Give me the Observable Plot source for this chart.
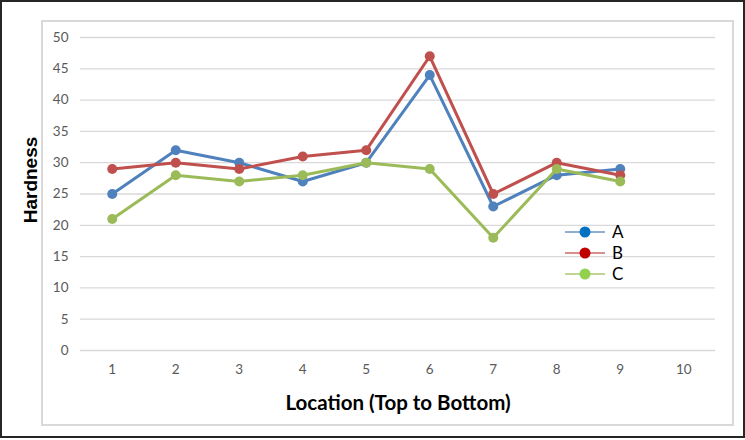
<!DOCTYPE html>
<html>
<head>
<meta charset="utf-8">
<script src="https://cdn.jsdelivr.net/npm/d3@7"></script>
<script src="https://cdn.jsdelivr.net/npm/@observablehq/plot@0.6"></script>
<style>
  html, body { margin: 0; padding: 0; background: #fff; }
  #wrap { position: relative; width: 745px; height: 440px; overflow: hidden; }
  #outer { position: absolute; left: 0; top: 0; width: 741px; height: 434px; border: 2px solid #262626; }
  #inner { position: absolute; left: 41px; top: 20px; width: 689px; height: 402px; border: 2px solid #d9d9d9; }
  #chart { position: absolute; left: 0; top: 0; }
  #legend { position: absolute; left: 564px; top: 221px; font-family: Lato, "Open Sans", sans-serif; font-size: 17px; color: #000; }
  .li { display: flex; align-items: center; height: 21px; }
  .li span { margin-left: 6px; }
</style>
</head>
<body>
<div id="wrap">
  <div id="outer"></div>
  <div id="inner"></div>
  <div id="chart"></div>
  <div id="legend"></div>
</div>
<script>
const locations = [1, 2, 3, 4, 5, 6, 7, 8, 9];
const seriesA = [25, 32, 30, 27, 30, 44, 23, 28, 29];
const seriesB = [29, 30, 29, 31, 32, 47, 25, 30, 28];
const seriesC = [21, 28, 27, 28, 30, 29, 18, 29, 27];
const seriesNames = ["A", "B", "C"];
const lineColors = ["#4F81BD", "#C0504D", "#9BBB59"];
const legendMarkers = ["#0070C0", "#C00000", "#92D050"];
const xTicks = [1, 2, 3, 4, 5, 6, 7, 8, 9, 10];
const yTicks = [0, 5, 10, 15, 20, 25, 30, 35, 40, 45, 50];

const allSeries = [seriesA, seriesB, seriesC];
const data = [];
allSeries.forEach((vals, si) => {
  vals.forEach((v, i) => data.push({ series: seriesNames[si], x: locations[i], y: v }));
});

const font = "Lato, 'Open Sans', sans-serif";
const marks = [
  Plot.gridY(yTicks, { stroke: "#d9d9d9", strokeOpacity: 1, strokeWidth: 1.3 }),
  Plot.axisY(yTicks, { tickSize: 0, tickPadding: 12, fontSize: 13.5, fill: "#595959", label: null }),
  Plot.axisX(xTicks, { tickSize: 0, tickPadding: 14, fontSize: 13.5, fill: "#595959", label: null }),
  Plot.text(["Hardness"], { frameAnchor: "left", textAnchor: "middle", dx: -50, dy: -14, rotate: -90, fontSize: 19, fontWeight: "bold", fill: "#000", fontFamily: "'Liberation Sans', Arial, sans-serif" }),
  Plot.text(["Location (Top to Bottom)"], { frameAnchor: "bottom", lineAnchor: "middle", dy: 53, fontSize: 20.5, fontWeight: "bold", fill: "#000", fontFamily: font })
];
seriesNames.forEach((name, si) => {
  const d = data.filter(r => r.series === name);
  marks.push(Plot.line(d, { x: "x", y: "y", stroke: lineColors[si], strokeWidth: 3 }));
  marks.push(Plot.dot(d, { x: "x", y: "y", fill: lineColors[si], r: 5 }));
});

const chart = Plot.plot({
  width: 745,
  height: 440,
  marginLeft: 80,
  marginRight: 30,
  marginTop: 37,
  marginBottom: 90,
  style: { fontFamily: font, background: "transparent" },
  x: { domain: [0.5, 10.5] },
  y: { domain: [0, 50] },
  marks
});
document.getElementById("chart").appendChild(chart);

const legend = document.getElementById("legend");
seriesNames.forEach((name, si) => {
  const row = document.createElement("div");
  row.className = "li";
  row.innerHTML = `<svg width="42" height="14"><line x1="1" x2="41" y1="7" y2="7" stroke="${lineColors[si]}" stroke-opacity="0.85" stroke-width="1.5"/><circle cx="21" cy="7" r="5.5" fill="${legendMarkers[si]}"/></svg><span>${name}</span>`;
  legend.appendChild(row);
});
</script>
</body>
</html>
